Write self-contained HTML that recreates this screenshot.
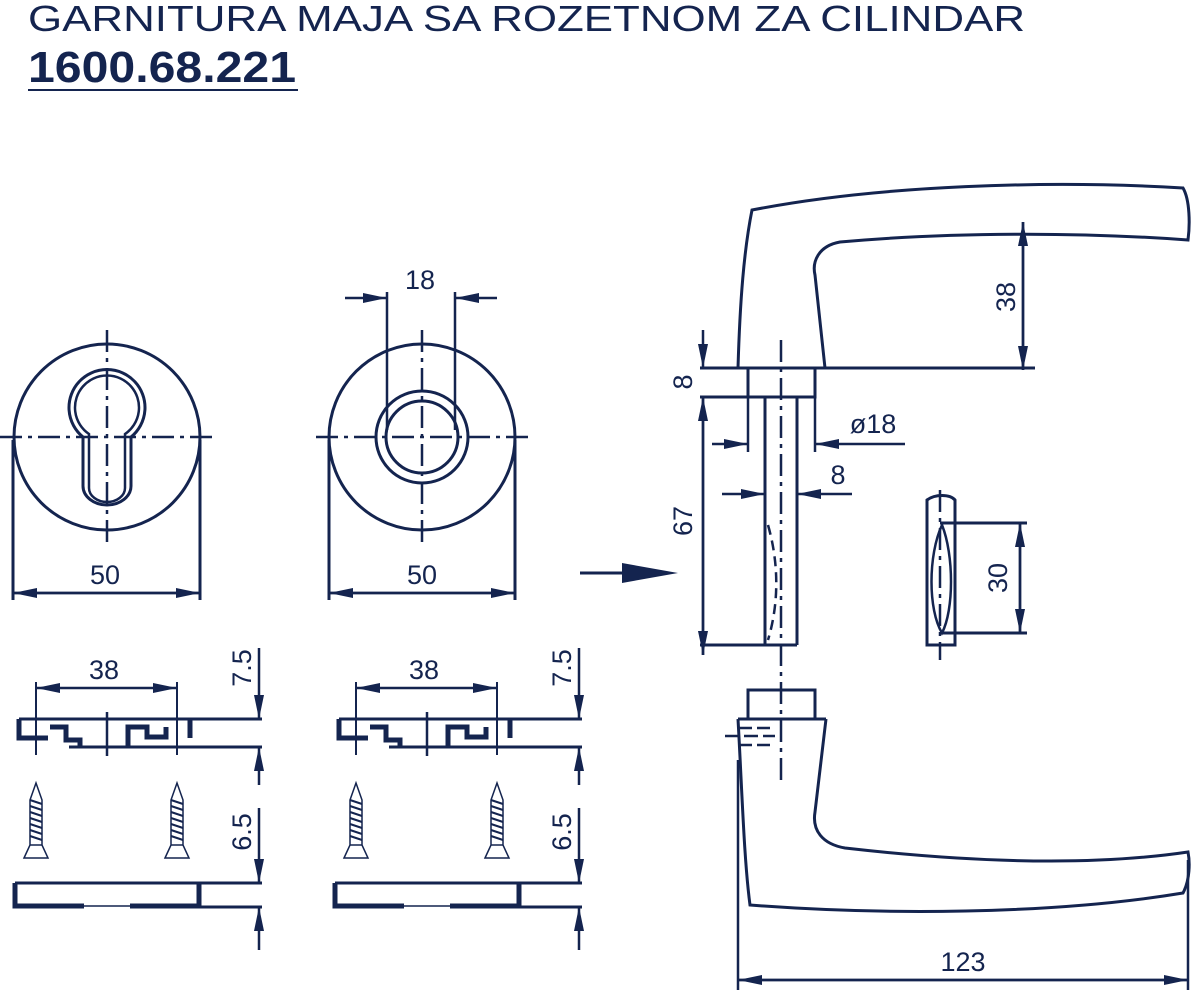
<!DOCTYPE html>
<html><head><meta charset="utf-8"><style>
html,body{margin:0;padding:0;background:#fff;}
svg{display:block}
text{font-family:"Liberation Sans",sans-serif;fill:#14244f}
</style></head><body>
<svg width="1200" height="990" viewBox="0 0 1200 990" xmlns="http://www.w3.org/2000/svg">
<defs>
<marker id="a" viewBox="0 0 24 10" refX="24" refY="5" markerWidth="24" markerHeight="10" markerUnits="userSpaceOnUse" orient="auto"><path d="M0,0 L24,5 L0,10 Z" fill="#14244f"/></marker>
</defs>
<text x="28" y="31" font-size="36" textLength="997" lengthAdjust="spacingAndGlyphs">GARNITURA MAJA SA ROZETNOM ZA CILINDAR</text>
<text x="28" y="82" font-size="44" font-weight="bold" textLength="268" lengthAdjust="spacingAndGlyphs">1600.68.221</text>
<line x1="28" y1="90" x2="298" y2="90" stroke="#14244f" stroke-width="2"/>

<g stroke="#14244f" stroke-width="3" fill="none">
<!-- left rosette -->
<circle cx="107" cy="437" r="93"/>
<path d="M83,437 L83,486 A24,19 0 0 0 131,486 L131,437 A38,38 0 1 0 83,437 Z"/>
<path d="M89,434 L89,488 A18,14 0 0 0 125,488 L125,434 A32,32 0 1 0 89,434 Z" stroke-width="2.5"/>
<line x1="13" y1="440" x2="13" y2="600"/><line x1="200" y1="440" x2="200" y2="600"/>
<path d="M13,593 L200,593" stroke-width="2.5" marker-end="url(#a)"/>
<path d="M200,593 L13,593" stroke-width="2.5" marker-end="url(#a)"/>
<!-- right rosette -->
<circle cx="422" cy="437" r="93"/>
<circle cx="422" cy="437" r="46"/><circle cx="422" cy="437" r="36"/>
<line x1="329" y1="440" x2="329" y2="600"/><line x1="515" y1="440" x2="515" y2="600"/>
<path d="M329,593 L515,593" stroke-width="2.5" marker-end="url(#a)"/>
<path d="M515,593 L329,593" stroke-width="2.5" marker-end="url(#a)"/>
<line x1="387" y1="292" x2="387" y2="430" stroke-width="2.5"/><line x1="455" y1="292" x2="455" y2="430" stroke-width="2.5"/>
<path d="M345,298 L387,298" stroke-width="2.5" marker-end="url(#a)"/>
<path d="M497,298 L455,298" stroke-width="2.5" marker-end="url(#a)"/>
</g>
<g stroke="#14244f" stroke-width="2.5" fill="none" stroke-dasharray="22,6,4,6">
<line x1="0" y1="437" x2="212" y2="437"/><line x1="107" y1="330" x2="107" y2="545"/>
<line x1="316" y1="437" x2="530" y2="437"/><line x1="422" y1="330" x2="422" y2="545"/>
<line x1="781" y1="340" x2="781" y2="785"/>
<line x1="940" y1="490" x2="940" y2="660"/>
</g>
<text x="105" y="584" font-size="27" text-anchor="middle">50</text>
<text x="422" y="584" font-size="27" text-anchor="middle">50</text>
<text x="420" y="289" font-size="27" text-anchor="middle">18</text>

<!-- big arrow -->
<line x1="580" y1="573" x2="625" y2="573" stroke="#14244f" stroke-width="3"/>
<path d="M622,563 L678,573 L622,583 Z" fill="#14244f"/>

<g stroke="#14244f" stroke-width="3" fill="none">
<!-- top handle -->
<path d="M738,368 C740,300 744,250 752,210 C880,185 1050,180 1183,188 C1190,200 1190,225 1188,240 C1080,232 950,232 840,242 C818,246 812,262 815,275 L825,368"/>
<line x1="700" y1="368" x2="1035" y2="368"/>
<line x1="1023" y1="370" x2="1023" y2="222" stroke-width="2.5" marker-end="url(#a)"/>
<line x1="1023" y1="222" x2="1023" y2="370" stroke-width="2.5" marker-end="url(#a)"/>
<rect x="748" y="368" width="67" height="29"/>
<line x1="700" y1="397" x2="815" y2="397"/>
<path d="M765,397 L765,645 M797,397 L797,645 M700,645 L797,645"/>
<path d="M768,525 C778,560 780,600 768,640" stroke-dasharray="10,6" stroke-width="2.5"/>
<line x1="703" y1="330" x2="703" y2="368" stroke-width="2.5" marker-end="url(#a)"/>
<line x1="703" y1="655" x2="703" y2="397" stroke-width="2.5" marker-end="url(#a)"/>
<line x1="703" y1="397" x2="703" y2="655" stroke-width="2.5" marker-end="url(#a)"/>
<line x1="748" y1="397" x2="748" y2="452" stroke-width="2.5"/><line x1="815" y1="397" x2="815" y2="452" stroke-width="2.5"/>
<line x1="712" y1="444" x2="748" y2="444" stroke-width="2.5" marker-end="url(#a)"/>
<line x1="905" y1="444" x2="815" y2="444" stroke-width="2.5" marker-end="url(#a)"/>
<line x1="722" y1="494" x2="765" y2="494" stroke-width="2.5" marker-end="url(#a)"/>
<line x1="852" y1="494" x2="797" y2="494" stroke-width="2.5" marker-end="url(#a)"/>
<!-- side part -->
<path d="M927,500 L927,645 L955,645 L955,500 C950,494 935,494 927,500 Z"/>
<path d="M942,525 C928,555 928,610 942,633 C954,610 954,555 942,525 Z" stroke-width="2.5"/>
<line x1="940" y1="523" x2="1027" y2="523"/><line x1="940" y1="633" x2="1027" y2="633"/>
<line x1="1020" y1="633" x2="1020" y2="523" stroke-width="2.5" marker-end="url(#a)"/>
<line x1="1020" y1="523" x2="1020" y2="633" stroke-width="2.5" marker-end="url(#a)"/>
<!-- lower handle -->
<rect x="748" y="690" width="67" height="29"/>
<line x1="738" y1="719" x2="826" y2="719"/>
<path d="M738,719 C742,790 744,860 750,905 C880,915 1050,915 1183,893 C1190,880 1190,862 1188,852 C1080,868 950,860 845,848 C822,844 812,830 815,812 L826,719"/>
<path d="M725,736 L775,736 M738,728 L770,728 M738,745 L770,745" stroke-width="2.5" stroke-dasharray="14,5"/>
<line x1="738" y1="760" x2="738" y2="990" stroke-width="2.5"/>
<line x1="1188" y1="860" x2="1188" y2="990" stroke-width="2.5"/>
<line x1="738" y1="980" x2="1188" y2="980" stroke-width="2.5" marker-end="url(#a)"/>
<line x1="1188" y1="980" x2="738" y2="980" stroke-width="2.5" marker-end="url(#a)"/>
</g>
<text x="873" y="433" font-size="27" text-anchor="middle">ø18</text>
<text x="838" y="484" font-size="27" text-anchor="middle">8</text>
<text x="963" y="971" font-size="27" text-anchor="middle">123</text>
<text font-size="27" text-anchor="middle" transform="translate(1015,297) rotate(-90)">38</text>
<text font-size="27" text-anchor="middle" transform="translate(1007,578) rotate(-90)">30</text>
<text font-size="27" text-anchor="middle" transform="translate(692,382) rotate(-90)">8</text>
<text font-size="27" text-anchor="middle" transform="translate(692,521) rotate(-90)">67</text>

<!-- sections (two copies) -->
<g id="sec">
<g stroke="#14244f" stroke-width="3" fill="none">
<line x1="19" y1="719" x2="262" y2="719"/>
<line x1="69" y1="747" x2="262" y2="747"/>
<path d="M19,719 L19,738 L48,738" stroke-width="5"/>
<path d="M50,727 L66,727 L66,740 L80,740 L80,747" stroke-width="5"/>
<path d="M128,747 L128,727 L147,727 L147,737 L166,737 L166,727" stroke-width="5"/>
<path d="M190,719 L190,738" stroke-width="5"/>
<line x1="107" y1="712" x2="107" y2="756" stroke-width="2.5"/>
<line x1="36" y1="682" x2="36" y2="755" stroke-width="2"/><line x1="177" y1="682" x2="177" y2="755" stroke-width="2"/>
<line x1="107" y1="688" x2="36" y2="688" stroke-width="2.5" marker-end="url(#a)"/>
<line x1="107" y1="688" x2="177" y2="688" stroke-width="2.5" marker-end="url(#a)"/>
<line x1="259" y1="648" x2="259" y2="719" stroke-width="2.5" marker-end="url(#a)"/>
<line x1="259" y1="785" x2="259" y2="747" stroke-width="2.5" marker-end="url(#a)"/>
<!-- screws -->
<path d="M36,783 L30,800 L30,845 L42,845 L42,800 Z M24,858 L30,845 L42,845 L48,858 Z" stroke-width="1.5"/>
<path d="M30,800 L42,804 M30,806 L42,810 M30,812 L42,816 M30,818 L42,822 M30,824 L42,828 M30,830 L42,834 M30,836 L42,840" stroke-width="2"/>
<path d="M177,783 L171,800 L171,845 L183,845 L183,800 Z M165,858 L171,845 L183,845 L189,858 Z" stroke-width="1.5"/>
<path d="M171,800 L183,804 M171,806 L183,810 M171,812 L183,816 M171,818 L183,822 M171,824 L183,828 M171,830 L183,834 M171,836 L183,840" stroke-width="2"/>
<!-- plate -->
<line x1="15" y1="883" x2="262" y2="883"/>
<path d="M15,883 L15,906 L84,906 M130,906 L199,906 L199,883" stroke-width="5"/>
<line x1="84" y1="906" x2="130" y2="906" stroke-width="1.5"/>
<line x1="199" y1="907" x2="262" y2="907"/>
<line x1="259" y1="808" x2="259" y2="883" stroke-width="2.5" marker-end="url(#a)"/>
<line x1="259" y1="950" x2="259" y2="907" stroke-width="2.5" marker-end="url(#a)"/>
</g>
<text x="104" y="679" font-size="27" text-anchor="middle">38</text>
<text font-size="27" text-anchor="middle" transform="translate(251,668) rotate(-90)">7.5</text>
<text font-size="27" text-anchor="middle" transform="translate(251,832) rotate(-90)">6.5</text>
</g>
<use href="#sec" transform="translate(320,0)"/>
</svg>
</body></html>
